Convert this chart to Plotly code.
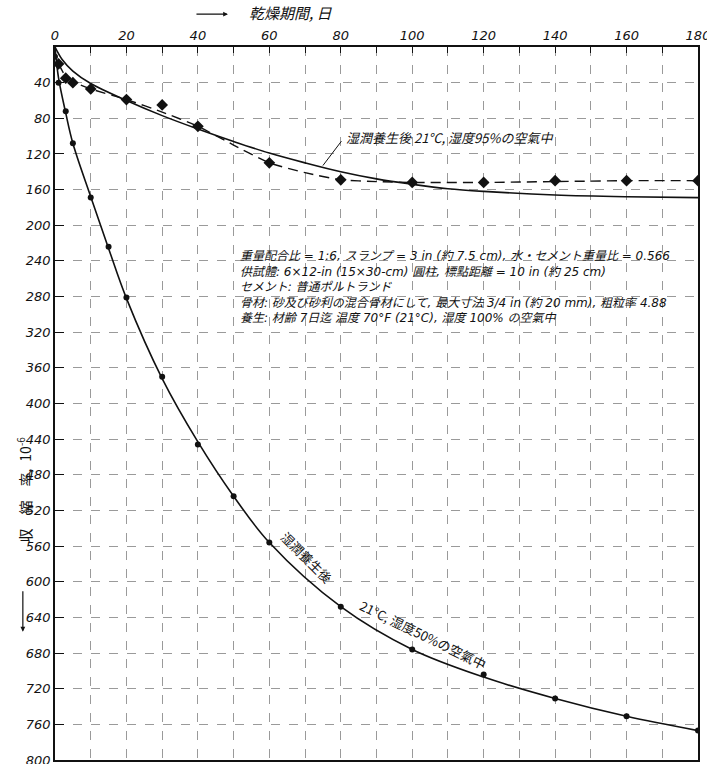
import plotly.graph_objects as go

# ---- data ----
# 50% humidity (after moist curing): measured points (circles)
days50 = [0, 1, 3, 5, 10, 15, 20, 30, 40, 50, 60, 80, 100, 120, 140, 160, 180]
shrink50 = [11, 40, 72, 108, 169, 224, 281, 370, 446, 504, 556, 628, 676, 704, 731, 751, 767]
# 50% humidity: drawn solid curve
curve50_days = [0, 1, 3, 5, 10, 15, 20, 30, 40, 50, 60, 80, 100, 120, 140, 160, 180]
curve50_vals = [0, 35, 74, 108, 168, 226, 282, 372, 443, 504, 556, 628, 676, 707, 731, 751, 767]

# 95% humidity: measured points (diamonds)
days95 = [1, 3, 5, 10, 20, 30, 40, 60, 80, 100, 120, 140, 160, 180]
shrink95 = [19, 35, 40, 47, 59, 65, 89, 130, 149, 152, 152, 150, 150, 150]
# 95% humidity: dashed line
dash95_days = [1, 3, 5, 10, 20, 30, 40, 50, 60, 70, 80, 90, 100, 120, 140, 160, 180]
dash95_vals = [19, 33, 39, 47, 59, 73, 89, 110, 130, 141, 149, 151, 152, 152, 151, 150, 150]
# 95% humidity: solid fitted curve
curve95_days = [0, 2, 5, 10, 20, 30, 40, 50, 60, 70, 80, 90, 100, 110, 120, 140, 160, 180]
curve95_vals = [0, 14, 27, 41, 60, 77, 92, 106, 119, 130, 140, 148, 154, 159, 162, 166, 168, 169]

x_ticks = [0, 20, 40, 60, 80, 100, 120, 140, 160, 180]
y_ticks = [40, 80, 120, 160, 200, 240, 280, 320, 360, 400, 440, 480, 520, 560, 600, 640, 680, 720, 760, 800]

title_text = "乾燥期間, 日"
ylabel_text = "収\u2003縮\u2003率,\u200210<sup>-6</sup>"
label95 = "湿潤養生後 21°C, 湿度95%の空氣中"
label50a = "湿潤養生後"
label50b = "21°C, 湿度50%の空氣中"
notes = [
    "重量配合比 = 1:6, スランプ = 3 in (約 7.5 cm), 水・セメント重量比 = 0.566",
    "供試體: 6×12-in (15×30-cm) 圓柱, 標點距離 = 10 in (約 25 cm)",
    "セメント: 普通ポルトランド",
    "骨材: 砂及び砂利の混合骨材にして, 最大寸法 3/4 in (約 20 mm), 粗粒率 4.88",
    "養生: 材齢 7日迄 温度 70°F (21°C), 湿度 100% の空氣中",
]

JP = "Noto Sans CJK JP"
MIX = "DejaVu Sans, Noto Sans CJK JP"
ink = "#111111"
gridc = "#9a9a9a"

fig = go.Figure()
fig.add_trace(go.Scatter(x=curve50_days, y=curve50_vals, mode="lines",
                         line=dict(color=ink, width=1.6, shape="spline", smoothing=1.0),
                         hoverinfo="skip", showlegend=False))
fig.add_trace(go.Scatter(x=days50, y=shrink50, mode="markers",
                         marker=dict(symbol="circle", size=6, color=ink),
                         showlegend=False))
fig.add_trace(go.Scatter(x=curve95_days, y=curve95_vals, mode="lines",
                         line=dict(color=ink, width=1.6, shape="spline", smoothing=1.0),
                         hoverinfo="skip", showlegend=False))
fig.add_trace(go.Scatter(x=dash95_days, y=dash95_vals, mode="lines",
                         line=dict(color=ink, width=1.4, dash="10px,6px", shape="spline", smoothing=0.6),
                         hoverinfo="skip", showlegend=False))
fig.add_trace(go.Scatter(x=days95, y=shrink95, mode="markers",
                         marker=dict(symbol="diamond", size=9, color=ink),
                         showlegend=False))

tickfont = dict(family="DejaVu Sans", size=13, color=ink, style="italic")
fig.update_xaxes(range=[0, 180], side="top", tickvals=x_ticks,
                 ticks="inside", ticklen=6, tickcolor=ink, tickfont=tickfont,
                 ticklabeloverflow="allow", automargin=False,
                 showline=True, linecolor=ink, linewidth=1.6, mirror=True,
                 showgrid=True, gridcolor=gridc, gridwidth=0.7, griddash="dash",
                 minor=dict(dtick=10, tick0=0, ticks="inside", ticklen=6, tickcolor=ink,
                            showgrid=True, gridcolor=gridc, gridwidth=0.7, griddash="dash"),
                 zeroline=False)
fig.update_yaxes(range=[800, 0], tickvals=y_ticks,
                 ticks="inside", ticklen=9, tickcolor=ink, tickfont=tickfont,
                 ticklabeloverflow="allow", automargin=False,
                 showline=True, linecolor=ink, linewidth=1.6, mirror=True,
                 showgrid=True, gridcolor=gridc, gridwidth=0.7, griddash="dash",
                 zeroline=False)

ann = []
# top title with arrow (paper coordinates, outside the plot area)
ann.append(dict(x=0.367, y=1.048, xref="paper", yref="paper", xanchor="center", yanchor="middle",
                text=title_text, showarrow=False,
                font=dict(family=JP, size=15, color=ink, style="italic")))
ann.append(dict(x=0.269, y=1.046, xref="paper", yref="paper", ax=-33, ay=0,
                text="", showarrow=True, arrowhead=2, arrowsize=0.8, arrowwidth=1.2, arrowcolor=ink))
# y-axis label with arrow
ann.append(dict(x=-0.047, y=0.379, xref="paper", yref="paper", xanchor="center", yanchor="middle",
                text=ylabel_text, showarrow=False,
                textangle=-90, font=dict(family=JP, size=14, color=ink)))
ann.append(dict(x=-0.050, y=0.18, xref="paper", yref="paper", ax=0, ay=-42,
                text="", showarrow=True, arrowhead=2, arrowsize=0.8, arrowwidth=1.2, arrowcolor=ink))
# 95% label with leader
ann.append(dict(x=81, y=102, xref="x", yref="y", xanchor="left", text=label95, showarrow=False,
                font=dict(family=JP, size=13, color=ink, style="italic")))
ann.append(dict(x=75, y=133, ax=80.5, ay=104, xref="x", yref="y", axref="x", ayref="y",
                text="", showarrow=True, arrowhead=0, arrowwidth=1.0, arrowcolor=ink))
# 50% label along the curve
ann.append(dict(x=70.5, y=573, xref="x", yref="y", text=label50a, showarrow=False, textangle=45,
                font=dict(family=JP, size=13, color=ink)))
ann.append(dict(x=103, y=659, xref="x", yref="y", text=label50b, showarrow=False, textangle=26,
                font=dict(family=JP, size=13, color=ink)))
# notes block (single multi-line text)
ann.append(dict(x=51.2, y=224, xref="x", yref="y", xanchor="left", yanchor="top", align="left",
                text="<br>".join(notes), showarrow=False,
                font=dict(family=MIX, size=12, color=ink, style="italic")))

fig.update_layout(width=707, height=764, margin=dict(l=55, r=9, t=47, b=4),
                  paper_bgcolor="white", plot_bgcolor="white",
                  annotations=ann, showlegend=False)

fig.write_html("out.html", config={"displayModeBar": False},
               post_script="document.body.style.margin='0';document.body.style.overflow='hidden';")
